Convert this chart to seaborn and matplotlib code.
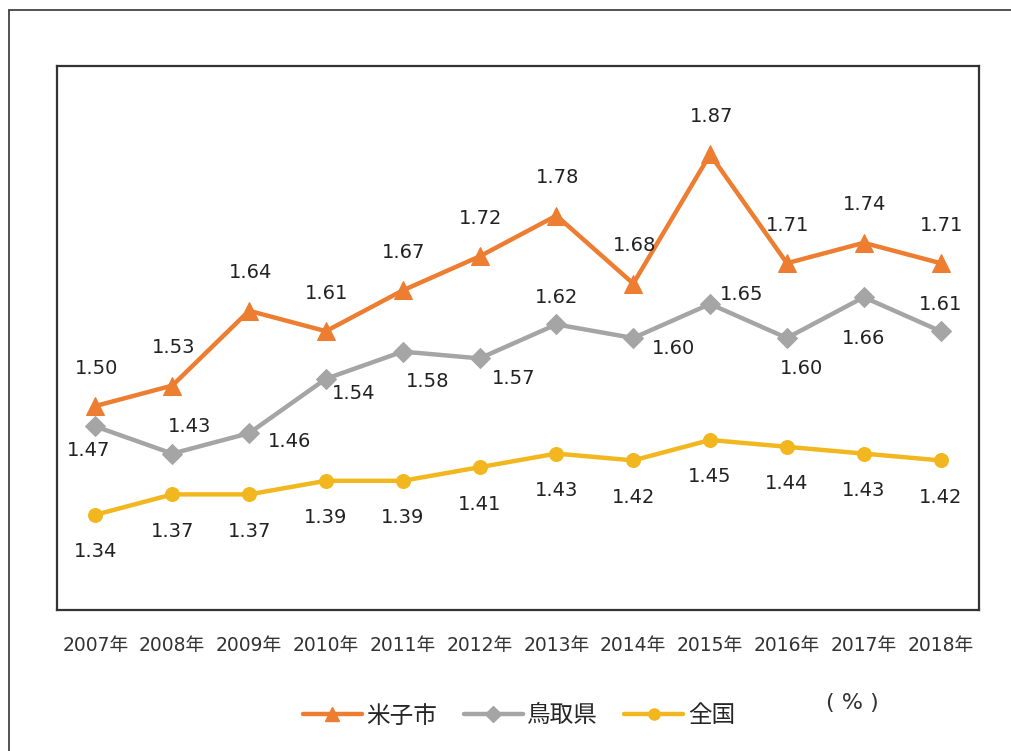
import numpy as np
import pandas as pd
import matplotlib
matplotlib.use('Agg')
import matplotlib.pyplot as plt
from matplotlib.lines import Line2D
import seaborn as sns

years = ['2007年', '2008年', '2009年', '2010年', '2011年', '2012年',
         '2013年', '2014年', '2015年', '2016年', '2017年', '2018年']
yonago = [1.50, 1.53, 1.64, 1.61, 1.67, 1.72, 1.78, 1.68, 1.87, 1.71, 1.74, 1.71]
tottori = [1.47, 1.43, 1.46, 1.54, 1.58, 1.57, 1.62, 1.60, 1.65, 1.60, 1.66, 1.61]
zenkoku = [1.34, 1.37, 1.37, 1.39, 1.39, 1.41, 1.43, 1.42, 1.45, 1.44, 1.43, 1.42]
series_names = ['米子市', '鳥取県', '全国']

# label offsets in pixels (dx, dy), dy positive = down
tottori_offsets = [(-7, 24), (17, -27), (40, 8), (28, 15), (25, 30), (34, 20),
                   (0, -27), (40, 11), (32, -10), (15, 31), (0, 41), (0, -27)]

sns.set_theme(style='white')
plt.rcParams['font.family'] = ['DejaVu Sans', 'Noto Sans CJK JP']

df = pd.DataFrame({
    'x': list(range(len(years))) * 3,
    'value': yonago + tottori + zenkoku,
    'series': np.repeat(series_names, len(years)),
})

colors = {'米子市': '#ED7D31', '鳥取県': '#A5A5A5', '全国': '#F2B71E'}
markers = {'米子市': '^', '鳥取県': 'D', '全国': 'o'}
msizes = {'米子市': 13, '鳥取県': 10, '全国': 10}

fig = plt.figure(figsize=(10.11, 7.51), dpi=100)
ax = fig.add_axes([57 / 1011, 1 - 610 / 751, 922 / 1011, 544 / 751])

for name in series_names:
    sub = df[df['series'] == name]
    sns.lineplot(data=sub, x='x', y='value', color=colors[name], linewidth=3.2,
                 marker=markers[name], markersize=msizes[name],
                 markeredgecolor=colors[name], ax=ax, legend=False)

ax.set_xlim(-0.5, 11.5)
ax.set_ylim(1.2, 2.0)
ax.set_yticks([])
ax.set_xticks(range(len(years)))
ax.set_xticklabels(years, fontsize=13.5, color='#333333')
ax.tick_params(axis='x', length=0, pad=19)
ax.set_xlabel('')
ax.set_ylabel('')
for sp in ax.spines.values():
    sp.set_color('#333333')
    sp.set_linewidth(1.6)

px = 0.72  # pixel -> points at 100 dpi
lab_kw = dict(textcoords='offset points', ha='center', va='center',
              fontsize=14, color='#222222')
for i, v in enumerate(yonago):
    ax.annotate(f'{v:.2f}', (i, v), xytext=(1 * px, 38 * px), **lab_kw)
for i, v in enumerate(tottori):
    dx, dy = tottori_offsets[i]
    ax.annotate(f'{v:.2f}', (i, v), xytext=(dx * px, -dy * px), **lab_kw)
for i, v in enumerate(zenkoku):
    ax.annotate(f'{v:.2f}', (i, v), xytext=(0, -37 * px), **lab_kw)

handles = [Line2D([0], [0], color=colors[n], lw=3.2, marker=markers[n],
                  markersize=msizes[n] * 0.8, markeredgecolor=colors[n]) for n in series_names]
fig.legend(handles, series_names, loc='center', bbox_to_anchor=(519 / 1011, 1 - 716 / 751),
           ncol=3, frameon=False, handlelength=2.5, handletextpad=0.2,
           columnspacing=1.1, prop={'family': 'Noto Sans CJK JP', 'size': 17})
fig.text(852 / 1011, 1 - 703 / 751, '( % )', fontsize=16, ha='center', va='center',
         color='#333333')

# outer frame
fig.add_artist(Line2D([9 / 1011, 9 / 1011], [0, 1 - 10 / 751], transform=fig.transFigure,
                      color='#444444', lw=1.3))
fig.add_artist(Line2D([9 / 1011, 1], [1 - 10 / 751, 1 - 10 / 751], transform=fig.transFigure,
                      color='#444444', lw=1.3))

fig.savefig('out.png', dpi=100)
